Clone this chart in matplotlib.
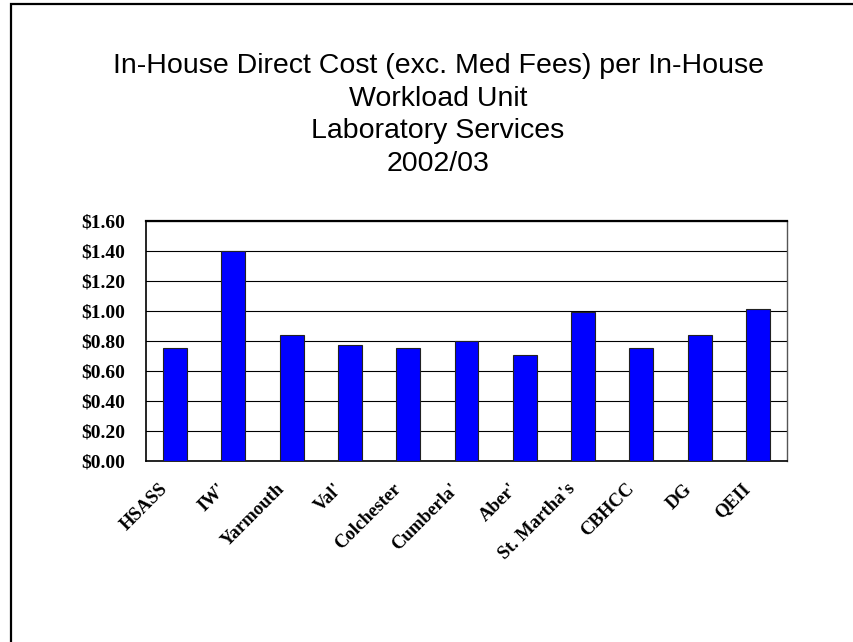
import matplotlib
matplotlib.use("Agg")
import matplotlib.pyplot as plt
import matplotlib.patches as patches
import matplotlib.transforms as mtrans
from matplotlib.ticker import FuncFormatter

# values
sites = ["HSASS", "IW'", "Yarmouth", "Val'", "Colchester", "Cumberla'",
         "Aber'", "St. Martha's", "CBHCC", "DG", "QEII"]
cost = [0.75, 1.40, 0.84, 0.77, 0.75, 0.80, 0.71, 0.99, 0.75, 0.84, 1.01]
yticks = [0.0, 0.2, 0.4, 0.6, 0.8, 1.0, 1.2, 1.4, 1.6]

title = ("In-House Direct Cost (exc. Med Fees) per In-House\n"
         "Workload Unit\nLaboratory Services\n2002/03")

fig = plt.figure(figsize=(8.54, 6.42), dpi=100)
ax = fig.add_axes([0.171, 0.2819, 0.7505, 0.3739])

x = range(len(sites))
ax.bar(x, cost, width=0.41, color="#0000FF", edgecolor="#222222", lw=0.8, zorder=3)

ax.set_xlim(-0.5, len(sites) - 0.5)
ax.set_ylim(0, 1.6)
ax.set_yticks(yticks)
ax.yaxis.set_major_formatter(FuncFormatter(lambda v, _: f"${v:.2f}"))
ax.grid(axis="y", color="black", lw=0.8, zorder=1)
ax.set_axisbelow(True)

ax.tick_params(axis="y", length=0, pad=15)
ax.tick_params(axis="x", length=0, pad=14)
for t in ax.get_yticklabels():
    t.set_fontfamily("Liberation Serif")
    t.set_fontweight("bold")
    t.set_fontsize(14)

ax.set_xticks(list(x))
ax.set_xticklabels(sites, rotation=45, ha="right", va="top", rotation_mode="anchor",
                   fontfamily="Liberation Serif", fontweight="bold", fontsize=13.5)
shift = mtrans.ScaledTranslation(-16 / 100, 0, fig.dpi_scale_trans)
for t in ax.get_xticklabels():
    t.set_transform(t.get_transform() + shift)

for s in ["left", "bottom", "top"]:
    ax.spines[s].set_color("black")
    ax.spines[s].set_linewidth(1.2)
ax.spines["top"].set_linewidth(1.6)
ax.spines["right"].set_color("#555555")
ax.spines["right"].set_linewidth(1.0)

fig.text(0.513, 1 - 53 / 642, title, ha="center", va="top", fontsize=20.5,
         fontfamily="Liberation Sans", linespacing=1.33)

# outer chart-area border (runs off the right and bottom edges)
fig.add_artist(patches.Rectangle((11 / 854, -0.2), 1.5, 1.2 - 4 / 642,
                                 transform=fig.transFigure, fill=False,
                                 ec="black", lw=1.6, clip_on=False))

fig.savefig("out.png", dpi=100)
